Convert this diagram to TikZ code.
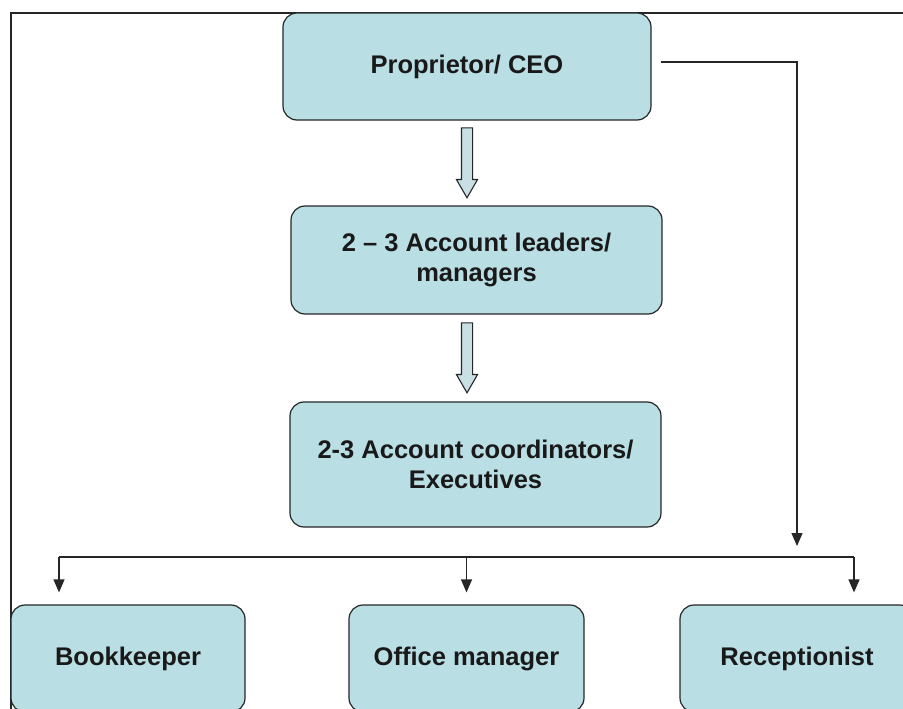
\documentclass[tikz,border=0pt]{standalone}
\usepackage{fontspec}
\setmainfont{Liberation Sans}
\usetikzlibrary{arrows.meta,shapes.arrows}
\definecolor{boxblue}{RGB}{185,222,227}
\definecolor{arrowblue}{RGB}{200,224,228}
\definecolor{linegray}{RGB}{38,38,38}

\begin{document}
\begin{tikzpicture}[%
      x=1pt, y=-1pt,
      rolebox/.style={draw=linegray, line width=1.2pt, fill=boxblue,
        rounded corners=14pt, inner sep=0pt, align=center,
        font=\fontsize{25.5}{30}\selectfont\bfseries, text=black!90},
      hollowarrow/.style={draw=linegray, line width=1.1pt, fill=arrowblue,
        single arrow, shape border rotate=270, inner sep=5pt,
        minimum width=20pt, minimum height=70pt,
        single arrow head extend=5pt, single arrow tip angle=60},
      link/.style={draw=linegray, line width=1.2pt,
        -{Triangle[length=13pt,width=11pt]}},
      ]
      \useasboundingbox (0,0) rectangle (903,709);
      \clip (0,0) rectangle (903,709);
      \draw [color=linegray, line width=1.2pt] (11,712) -- (11,13) -- (905,13);

      \node [rolebox, minimum width=368pt, minimum height=107pt] (ceo) at (467,66.5) {Proprietor/ CEO};
      \node [rolebox, minimum width=371pt, minimum height=108pt] (leaders) at (476.5,260) {2 – 3 Account leaders/\\managers};
      \node [rolebox, minimum width=371pt, minimum height=125pt] (coord) at (475.5,464.5) {2-3 Account coordinators/\\Executives};
      \node [rolebox, minimum width=234pt, minimum height=107pt] (book) at (128,658.5) {Bookkeeper};
      \node [rolebox, minimum width=235pt, minimum height=107pt] (office) at (466.5,658.5) {Office manager};
      \node [rolebox, minimum width=234pt, minimum height=107pt] (recep) at (797,658.5) {Receptionist};

      \node [hollowarrow] (down1) at (467,158) {};
      \node [hollowarrow] (down2) at (467,353) {};

      \coordinate (ceoturn) at (797,546);
      \coordinate (busleft) at (59,557);
      \coordinate (busright) at (854,557);

      \draw [link] ([xshift=9pt,yshift=4.5pt]ceo.east) -| (ceoturn);
      \draw [color=linegray, line width=1.2pt] (busleft) -- (busright);
      \draw [link, shorten >=12pt] (busleft) -- (busleft |- book.north);
      \draw [link, shorten >=12pt] (office.north |- busleft) -- (office.north);
      \draw [link, shorten >=12pt] (busright) -- (busright |- recep.north);
      \end{tikzpicture}
\end{document}
